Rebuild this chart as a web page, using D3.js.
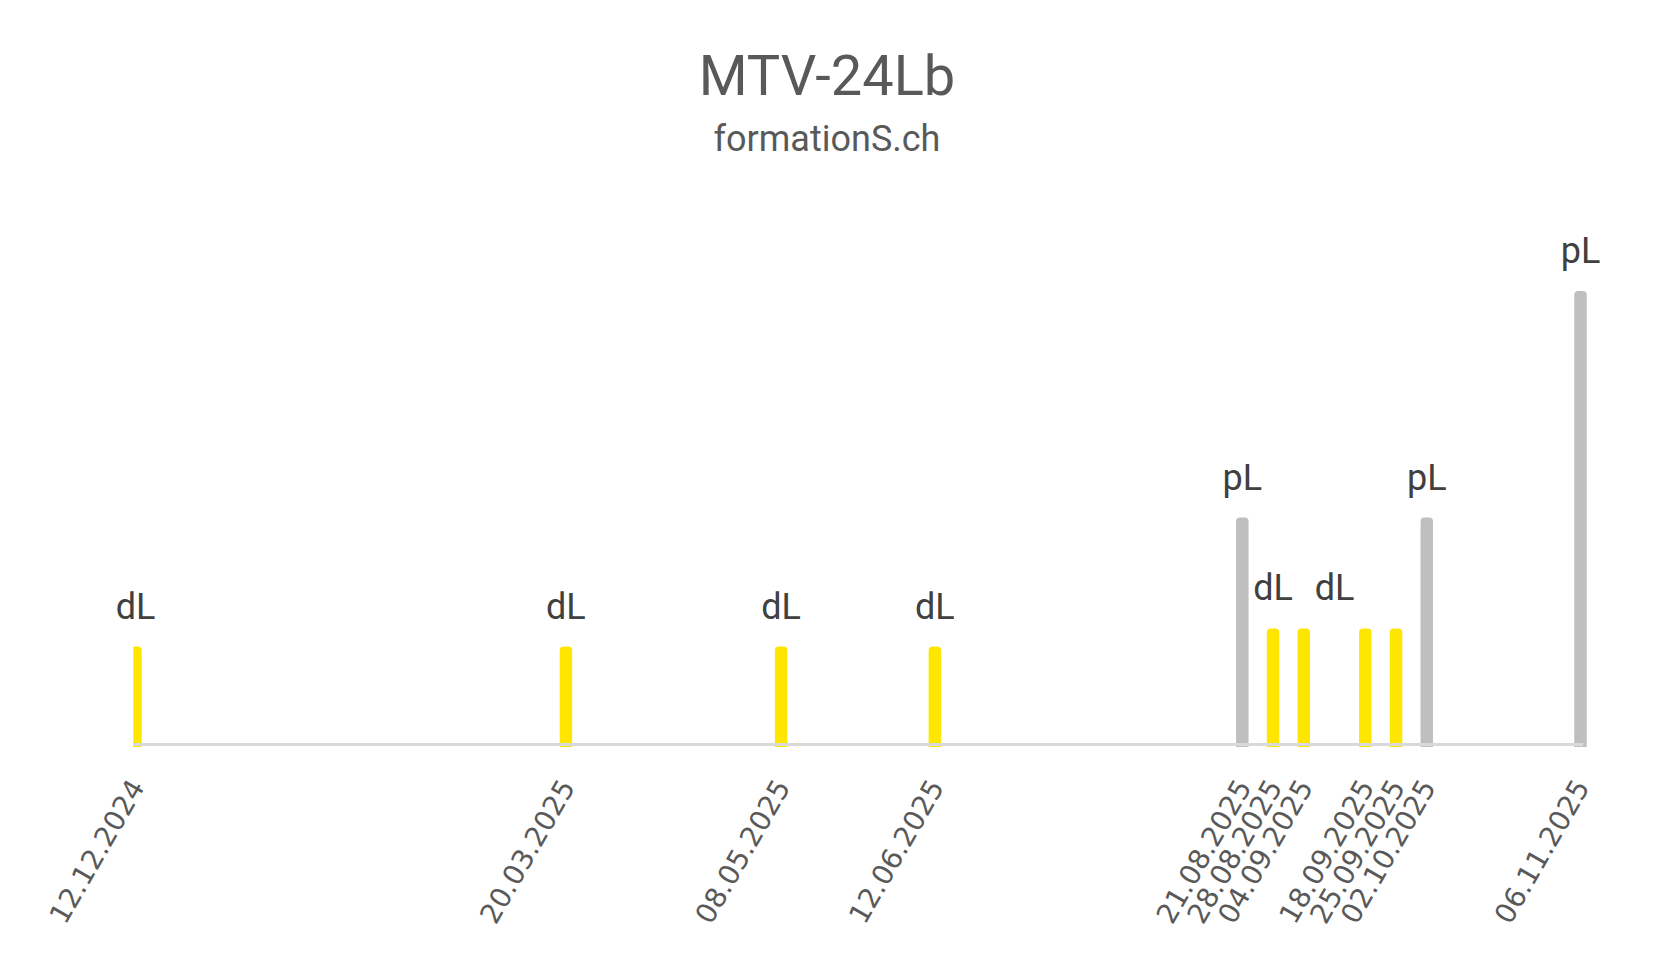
<!DOCTYPE html>
<html>
<head>
<meta charset="utf-8">
<script src="https://cdn.jsdelivr.net/npm/d3@7"></script>
<style>
  body { margin: 0; background: #fff; }
  svg { display: block; }
</style>
</head>
<body>
<div id="chart"></div>
<script>
// Data
const dates = ["2024-12-12", "2025-03-20", "2025-05-08", "2025-06-12", "2025-08-21", "2025-08-28",
  "2025-09-04", "2025-09-18", "2025-09-25", "2025-10-02", "2025-11-06"];
const types = ["dL", "dL", "dL", "dL", "pL", "dL", "dL", "dL", "dL", "pL", "pL"];
const values = [0.86, 0.86, 0.86, 0.86, 2, 1.02, 1.02, 1.02, 1.02, 2, 4];

// labels sit on their own points (one lands on 11.09 with no bar)
const labelDates = ["2024-12-12", "2025-03-20", "2025-05-08", "2025-06-12", "2025-08-21", "2025-08-28",
  "2025-09-11", "2025-10-02", "2025-11-06"];
const labelTexts = ["dL", "dL", "dL", "dL", "pL", "dL", "dL", "pL", "pL"];
const labelValues = [0.86, 0.86, 0.86, 0.86, 2, 1.02, 1.02, 2, 4];

const title = "MTV-24Lb";
const subtitle = "formationS.ch";

const W = 1654, H = 964;
const margin = { left: 133.3, right: 71.3, top: 291, bottom: 220 };
const axisY = H - margin.bottom; // 744
const colors = { dL: "#FFE600", pL: "#BFBFBF" };
const barW = 12.5, rad = 4;

const parse = d3.timeParse("%Y-%m-%d");
const fmt = d3.timeFormat("%d.%m.%Y");

const bars = dates.map((d, i) => ({ date: parse(d), type: types[i], value: values[i] }));
const labels = labelDates.map((d, i) => ({ date: parse(d), text: labelTexts[i], value: labelValues[i] }));

const x = d3.scaleTime()
  .domain([d3.timeHour.offset(bars[0].date, -12), d3.timeHour.offset(bars[bars.length - 1].date, 12)])
  .range([margin.left, W - margin.right]);
const y = d3.scaleLinear().domain([0, 4]).range([axisY, margin.top]);

const svg = d3.select("#chart").append("svg")
  .attr("width", W)
  .attr("height", H)
  .style("font-family", "Roboto, 'Noto Sans', sans-serif");

svg.append("defs").append("clipPath").attr("id", "plot")
  .append("rect")
  .attr("x", margin.left).attr("y", 0)
  .attr("width", W - margin.left).attr("height", axisY + 10);

// titles
svg.append("text")
  .attr("x", W / 2).attr("y", 95)
  .attr("text-anchor", "middle")
  .style("font-size", "56px")
  .attr("fill", "#595959")
  .text(title);
svg.append("text")
  .attr("x", W / 2).attr("y", 151)
  .attr("text-anchor", "middle")
  .style("font-size", "36px")
  .attr("fill", "#595959")
  .text(subtitle);

// bars, rounded on top only
function barPath(d) {
  var x0 = x(d.date) - barW / 2, x1 = x0 + barW, top = y(d.value), bot = axisY + 3;
  return "M" + x0 + "," + bot + "V" + (top + rad) + "Q" + x0 + "," + top + " " + (x0 + rad) + "," + top +
    "H" + (x1 - rad) + "Q" + x1 + "," + top + " " + x1 + "," + (top + rad) + "V" + bot + "Z";
}

svg.append("g")
  .attr("clip-path", "url(#plot)")
  .selectAll("path")
  .data(bars)
  .enter().append("path")
  .attr("d", barPath)
  .attr("fill", d => colors[d.type]);

// axis
const axis = svg.append("g")
  .attr("transform", "translate(0," + axisY + ")")
  .call(d3.axisBottom(x).tickValues(bars.map(d => d.date)).tickFormat(fmt).tickSize(0).tickPadding(0));
axis.select(".domain").attr("stroke", "#D9D9D9").attr("stroke-width", 3);
axis.selectAll(".tick text")
  .attr("fill", "#595959")
  .style("font-family", "'DejaVu Sans', sans-serif")
  .style("font-size", "28px")
  .attr("text-anchor", "end")
  .attr("y", 0)
  .attr("dy", "0.35em")
  .attr("transform", "translate(1,38) rotate(-60)");

// data labels
svg.append("g")
  .selectAll("text")
  .data(labels)
  .enter().append("text")
  .attr("x", d => x(d.date))
  .attr("y", d => y(d.value) - 28)
  .attr("text-anchor", "middle")
  .style("font-size", "36px")
  .attr("fill", "#404040")
  .text(d => d.text);
</script>
</body>
</html>
